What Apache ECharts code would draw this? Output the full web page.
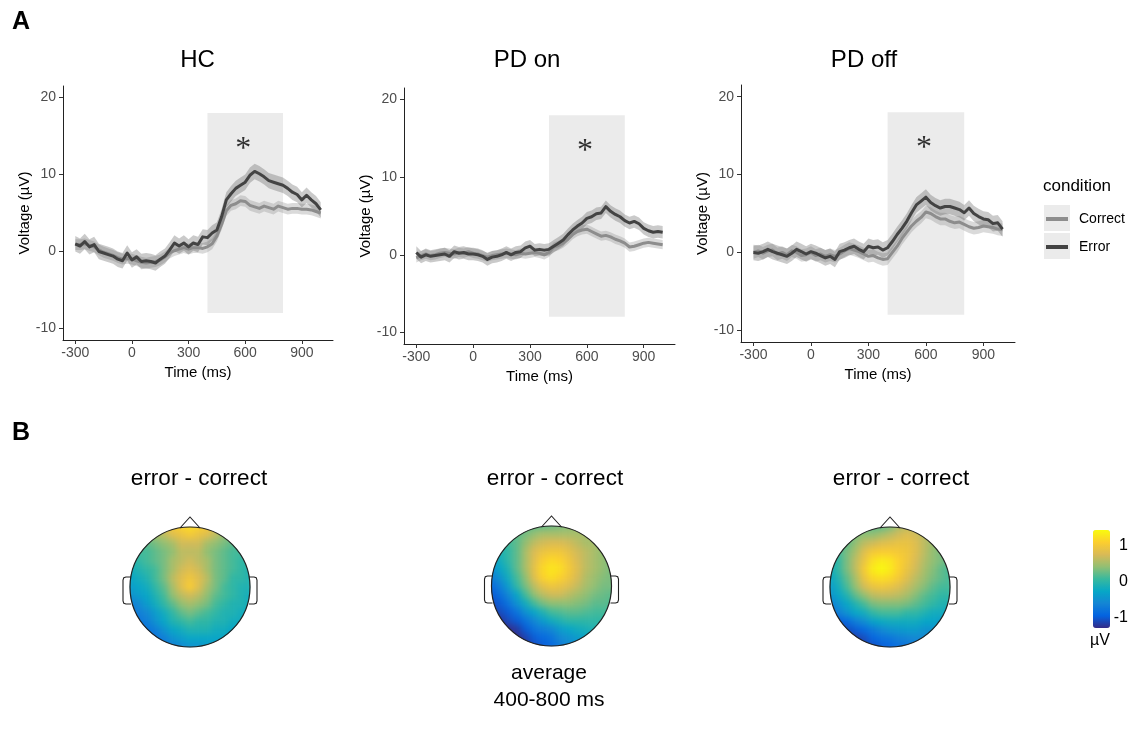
<!DOCTYPE html>
<html>
<head>
<meta charset="utf-8">
<script src="https://cdn.jsdelivr.net/npm/echarts@6/dist/echarts.min.js"></script>
<style>
html,body{margin:0;padding:0;background:#fff}
#c{width:1131px;height:739px}
</style>
</head>
<body>
<div id="c"></div>
<script>
// ---------- ERP time courses (µV), sampled every 25 ms ----------
const times = [-300,-275,-250,-225,-200,-175,-150,-125,-100,-75,-50,-25,0,25,50,75,100,125,150,175,200,225,250,275,300,325,350,375,400,425,450,475,500,525,550,575,600,625,650,675,700,725,750,775,800,825,850,875,900,925,950,975,1000];

const hcError = [1.0,0.7,1.3,0.6,0.9,0,-0.2,-0.4,-0.6,-1.0,-1.2,-0.2,-1.1,-0.7,-1.3,-1.2,-1.3,-1.5,-1.0,-0.6,0.2,1.1,0.7,1.1,0.6,1.1,0.9,1.9,1.8,2.4,2.8,4.5,6.7,7.5,8.2,8.6,9.0,9.9,10.4,10.1,9.7,9.2,9.0,8.8,8.6,8.2,7.7,7.4,6.7,7.3,6.7,6.2,5.4];
const hcCorrect = [0.9,0.9,1.0,0.8,0.6,0.2,-0.1,-0.3,-0.5,-0.8,-1.0,-0.9,-1.0,-1.2,-1.4,-1.5,-1.4,-1.3,-1.1,-0.7,-0.2,0.1,0.3,0.5,0.3,0.5,0.5,0.4,0.6,1.0,2.0,3.5,5.3,6.0,6.2,6.6,6.5,6.0,5.8,5.6,5.9,5.7,5.5,5.9,5.7,5.5,5.6,5.6,5.5,5.5,5.4,5.2,5.0];

const pdOnError = [0.3,-0.3,0,-0.2,-0.1,0,0.1,-0.2,0.4,0.2,0.3,0.1,0.1,0,-0.2,-0.6,-0.3,-0.2,0,0.3,0,0.3,0.4,0.9,1.1,0.6,0.7,0.6,0.7,1.1,1.5,1.9,2.6,3.2,3.7,4.1,4.7,4.9,5.3,5.4,6.2,5.6,5.2,4.9,4.4,4.1,4.3,4.0,3.4,3.1,2.9,3.0,2.9];
const pdOnCorrect = [-0.4,-0.1,0.1,-0.1,0,0.2,0.3,0.2,0.1,0.3,0.2,0.4,0.2,0.1,-0.1,-0.3,-0.1,0,0.1,0.2,0.1,0,0.2,0.1,0.2,0.3,0.2,0.0,0.3,1.0,1.2,1.5,2.0,2.6,3.0,3.2,3.3,3.0,2.7,2.4,2.5,2.3,2.0,1.8,1.5,1.0,1.1,1.3,1.5,1.6,1.5,1.4,1.3];

const pdOffError = [0,-0.1,0.1,0.4,0.1,-0.1,-0.3,-0.5,-0.1,0.4,0.1,-0.2,0.1,-0.1,-0.4,-0.7,-0.5,-0.9,0.1,0.3,0.6,0.8,0.4,0.1,0.8,0.6,0.7,0.3,0.6,1.4,2.3,3.1,4.0,5.1,6.1,6.6,7.1,6.4,6.0,5.7,5.9,5.9,5.7,5.5,5.1,5.7,5.0,4.6,4.3,4.2,3.7,3.8,3.0];
const pdOffCorrect = [0,0.2,-0.1,0.2,0.3,-0.2,0,-0.3,0.2,0,-0.4,-0.3,0,-0.4,-0.2,-0.5,-0.3,-0.5,-0.2,0.2,0.5,0.3,0.1,-0.2,-0.5,-0.4,-0.7,-0.9,-0.8,0.0,0.8,1.8,2.6,3.4,4.0,4.5,5.2,5.0,4.6,4.3,4.3,4.0,3.8,3.9,3.6,3.3,3.1,3.2,3.4,3.3,3.2,3.0,2.9];

// standard-error half widths of the shaded ribbons (µV)
const seError = [1.0, 0.8, 1.0];
const seCorrect = [0.7, 0.6, 0.8];

const panelTitles = ['HC', 'PD on', 'PD off'];
const conditionNames = ['Correct', 'Error'];
const timeTicks = [-300, 0, 300, 600, 900];
const voltTicks = [-10, 0, 10, 20];
// analysis window [start ms, end ms, low µV, high µV]
const windowBox = [400, 800, -8, 18];
// significance marker [ms, µV]
const starPos = [590, 14.3];

// ---------- scalp maps: error - correct, 400-800 ms (µV), rows front -> back ----------
const hcTopo = [
  [0.3,0.4,0.5,0.6,0.8,1.0,1.1,1.2,1.1,1.0,0.8,0.6,0.4,0.3,0.2],
  [0.2,0.3,0.4,0.5,0.6,0.8,0.9,1.0,0.9,0.8,0.6,0.4,0.3,0.2,0.1],
  [0.1,0.2,0.2,0.3,0.4,0.5,0.7,0.7,0.7,0.5,0.4,0.3,0.2,0.1,0.1],
  [0.0,0.1,0.1,0.2,0.3,0.4,0.6,0.6,0.6,0.4,0.3,0.2,0.1,0.1,0.0],
  [-0.1,0.0,0.1,0.2,0.3,0.5,0.6,0.7,0.6,0.5,0.3,0.2,0.1,0.0,0.0],
  [-0.2,-0.1,0.0,0.1,0.3,0.5,0.7,0.8,0.7,0.5,0.3,0.2,0.1,0.0,-0.1],
  [-0.3,-0.2,-0.1,0.1,0.3,0.6,0.8,0.95,0.8,0.6,0.3,0.2,0.0,0.0,-0.1],
  [-0.4,-0.3,-0.2,0.0,0.2,0.5,0.8,1.05,0.8,0.5,0.3,0.1,0.0,-0.1,-0.1],
  [-0.5,-0.4,-0.3,-0.1,0.1,0.4,0.6,0.7,0.6,0.4,0.2,0.1,0.0,-0.1,-0.2],
  [-0.7,-0.6,-0.4,-0.2,0.0,0.2,0.4,0.5,0.4,0.3,0.1,0.0,-0.1,-0.1,-0.2],
  [-0.8,-0.7,-0.6,-0.4,-0.2,0.0,0.2,0.3,0.2,0.1,0.0,-0.1,-0.1,-0.2,-0.2],
  [-0.9,-0.8,-0.7,-0.5,-0.3,-0.1,0.0,0.1,0.0,0.0,-0.1,-0.1,-0.2,-0.2,-0.3],
  [-1.0,-0.9,-0.8,-0.7,-0.5,-0.3,-0.2,-0.1,-0.1,-0.1,-0.2,-0.2,-0.3,-0.3,-0.3],
  [-1.1,-1.0,-0.9,-0.8,-0.7,-0.5,-0.4,-0.3,-0.3,-0.3,-0.3,-0.3,-0.4,-0.4,-0.4],
  [-1.1,-1.1,-1.0,-0.9,-0.8,-0.7,-0.6,-0.5,-0.5,-0.4,-0.4,-0.4,-0.5,-0.5,-0.5]
];
const pdOnTopo = [
  [0.0,0.05,0.1,0.1,0.15,0.2,0.2,0.25,0.3,0.35,0.4,0.4,0.4,0.4,0.4],
  [-0.1,0.0,0.1,0.2,0.3,0.4,0.5,0.5,0.5,0.5,0.5,0.5,0.4,0.4,0.4],
  [-0.2,-0.1,0.1,0.2,0.4,0.6,0.7,0.75,0.75,0.7,0.6,0.5,0.5,0.4,0.4],
  [-0.3,-0.1,0.0,0.2,0.5,0.75,0.9,0.95,0.95,0.85,0.7,0.6,0.5,0.4,0.4],
  [-0.4,-0.2,0.0,0.2,0.5,0.8,1.05,1.15,1.1,0.95,0.75,0.6,0.5,0.4,0.3],
  [-0.6,-0.3,-0.1,0.2,0.5,0.85,1.15,1.25,1.2,1.0,0.8,0.6,0.5,0.4,0.3],
  [-0.7,-0.5,-0.2,0.1,0.4,0.8,1.1,1.2,1.1,0.95,0.75,0.55,0.45,0.35,0.3],
  [-0.9,-0.7,-0.4,0.0,0.3,0.6,0.85,0.95,0.9,0.8,0.65,0.5,0.4,0.3,0.3],
  [-1.0,-0.85,-0.6,-0.3,0.1,0.4,0.6,0.7,0.7,0.6,0.5,0.4,0.3,0.25,0.2],
  [-1.1,-1.0,-0.8,-0.5,-0.2,0.1,0.3,0.4,0.4,0.4,0.35,0.3,0.2,0.2,0.15],
  [-1.2,-1.1,-1.0,-0.8,-0.5,-0.3,-0.1,0.1,0.15,0.2,0.2,0.15,0.1,0.1,0.1],
  [-1.3,-1.25,-1.1,-1.0,-0.8,-0.6,-0.4,-0.2,-0.1,0.0,0.0,0.0,0.0,0.0,0.0],
  [-1.4,-1.35,-1.3,-1.2,-1.0,-0.8,-0.7,-0.6,-0.4,-0.3,-0.2,-0.15,-0.1,-0.1,-0.1],
  [-1.4,-1.4,-1.35,-1.3,-1.15,-1.0,-0.9,-0.8,-0.6,-0.5,-0.4,-0.3,-0.25,-0.2,-0.2],
  [-1.4,-1.4,-1.4,-1.35,-1.25,-1.1,-1.0,-0.9,-0.75,-0.6,-0.5,-0.4,-0.35,-0.3,-0.3]
];
const pdOffTopo = [
  [0.0,0.1,0.2,0.2,0.2,0.2,0.2,0.3,0.5,0.6,0.6,0.5,0.4,0.3,0.2],
  [0.0,0.1,0.2,0.3,0.4,0.4,0.5,0.6,0.7,0.8,0.7,0.6,0.4,0.3,0.2],
  [-0.1,0.1,0.2,0.4,0.6,0.7,0.8,0.85,0.9,0.9,0.8,0.6,0.45,0.3,0.2],
  [-0.1,0.1,0.3,0.5,0.8,1.0,1.05,1.05,1.0,0.95,0.8,0.6,0.4,0.3,0.2],
  [-0.2,0.0,0.3,0.6,0.9,1.2,1.3,1.25,1.1,0.95,0.75,0.55,0.4,0.3,0.2],
  [-0.2,0.0,0.3,0.6,1.0,1.3,1.4,1.3,1.1,0.9,0.7,0.5,0.35,0.2,0.1],
  [-0.3,-0.1,0.2,0.5,0.9,1.15,1.2,1.15,1.0,0.8,0.6,0.45,0.3,0.2,0.1],
  [-0.4,-0.2,0.1,0.4,0.7,0.9,0.95,0.9,0.8,0.65,0.5,0.35,0.2,0.1,0.1],
  [-0.5,-0.3,-0.1,0.2,0.4,0.6,0.65,0.65,0.6,0.5,0.35,0.2,0.1,0.0,0.0],
  [-0.7,-0.5,-0.3,-0.1,0.1,0.3,0.35,0.35,0.35,0.3,0.2,0.1,0.0,-0.1,-0.1],
  [-0.9,-0.7,-0.5,-0.3,-0.2,0.0,0.1,0.1,0.1,0.0,0.0,-0.1,-0.2,-0.2,-0.3],
  [-1.1,-1.0,-0.9,-0.7,-0.55,-0.35,-0.25,-0.2,-0.2,-0.2,-0.2,-0.3,-0.3,-0.4,-0.4],
  [-1.3,-1.2,-1.1,-1.0,-0.9,-0.75,-0.6,-0.5,-0.45,-0.4,-0.4,-0.5,-0.5,-0.5,-0.5],
  [-1.4,-1.35,-1.3,-1.2,-1.1,-0.95,-0.85,-0.8,-0.7,-0.65,-0.6,-0.6,-0.6,-0.6,-0.6],
  [-1.4,-1.4,-1.35,-1.3,-1.2,-1.1,-1.0,-0.95,-0.85,-0.8,-0.7,-0.7,-0.7,-0.7,-0.7]
];
const colorbarTicks = [-1, 0, 1];
const colorRange = [-1.3, 1.42];

// ---------- layout & style ----------
const FONT = '"Liberation Sans", Arial, sans-serif';
const ERR_COLOR = '#434343';
const COR_COLOR = '#8d8d8d';
const lineGrids = [
  {left: 63, top: 86, width: 270, height: 254},
  {left: 404, top: 88, width: 271, height: 256},
  {left: 741, top: 85, width: 274, height: 257}
];
const titleCenters = [197.5, 527, 864];
const heads = [
  {cx: 190, cy: 587, label: 199},
  {cx: 551.5, cy: 586, label: 555},
  {cx: 890, cy: 587, label: 901}
];
const R = 60;        // head radius (px)
const MAP_PAD = 5;   // map extends a little past the scalp outline
const parula = ['#352a87','#0363e1','#1485d4','#06a7c6','#38b99e','#92bf73','#d9ba56','#fcce2e','#f9fb0e'];

const panelData = [
  {err: hcError, cor: hcCorrect},
  {err: pdOnError, cor: pdOnCorrect},
  {err: pdOffError, cor: pdOffCorrect}
];
const topos = [hcTopo, pdOnTopo, pdOffTopo];

const grids = [], xAxes = [], yAxes = [], series = [], titles = [];

// ribbon polygon (mean ± se) drawn through the axis scales
function ribbon(gi, vals, se, fill, z) {
  return {
    type: 'custom', xAxisIndex: gi, yAxisIndex: gi, z: z, silent: true,
    data: [[times[0], vals[0]]],
    renderItem: function (params, api) {
      const up = vals.map((v, i) => api.coord([times[i], v + se]));
      const lo = vals.map((v, i) => api.coord([times[i], v - se])).reverse();
      return {type: 'polygon', shape: {points: up.concat(lo)}, style: {fill: fill}};
    }
  };
}

panelData.forEach((p, k) => {
  grids.push(Object.assign({containLabel: false}, lineGrids[k]));
  xAxes.push({
    type: 'value', gridIndex: k, min: -365, max: 1065,
    splitLine: {show: false},
    axisLine: {onZero: false, lineStyle: {color: '#222', width: 1}},
    axisTick: {show: true, length: 4, customValues: timeTicks, lineStyle: {color: '#333'}},
    axisLabel: {customValues: timeTicks, color: '#4d4d4d', fontSize: 14, fontFamily: FONT, margin: 6},
    name: 'Time (ms)', nameLocation: 'middle', nameGap: 25,
    nameTextStyle: {color: '#000', fontSize: 15, fontFamily: FONT}
  });
  yAxes.push({
    type: 'value', gridIndex: k, min: -11.5, max: 21.5,
    splitLine: {show: false},
    axisLine: {show: true, onZero: false, lineStyle: {color: '#222', width: 1}},
    axisTick: {show: true, length: 4, customValues: voltTicks, lineStyle: {color: '#333'}},
    axisLabel: {customValues: voltTicks, color: '#4d4d4d', fontSize: 14, fontFamily: FONT, margin: 7},
    name: 'Voltage (µV)', nameLocation: 'middle', nameGap: 30,
    nameTextStyle: {color: '#000', fontSize: 15, fontFamily: FONT}
  });

  // analysis window
  series.push({
    type: 'custom', xAxisIndex: k, yAxisIndex: k, z: 1, silent: true,
    data: [windowBox],
    renderItem: function (params, api) {
      const a = api.coord([api.value(0), api.value(3)]);
      const b = api.coord([api.value(1), api.value(2)]);
      return {type: 'rect', shape: {x: a[0], y: a[1], width: b[0] - a[0], height: b[1] - a[1]},
              style: {fill: '#ebebeb'}};
    }
  });
  series.push(ribbon(k, p.cor, seCorrect[k], 'rgba(140,140,140,0.32)', 2));
  series.push(ribbon(k, p.err, seError[k], 'rgba(90,90,90,0.32)', 2));

  const mk = (name, vals, color) => ({
    type: 'line', name: name, xAxisIndex: k, yAxisIndex: k, z: 3,
    data: times.map((t, i) => [t, vals[i]]),
    showSymbol: false, symbol: 'none', smooth: false,
    lineStyle: {color: color, width: 3, join: 'round'},
    itemStyle: {color: color}
  });
  series.push(mk(conditionNames[0], p.cor, COR_COLOR));
  series.push(mk(conditionNames[1], p.err, ERR_COLOR));

  series.push({
    type: 'scatter', xAxisIndex: k, yAxisIndex: k, z: 4, silent: true,
    data: [starPos], symbol: 'circle', symbolSize: 2,
    itemStyle: {color: 'rgba(0,0,0,0)'},
    label: {show: true, position: 'inside', formatter: '*', color: '#000',
            fontSize: 32, fontFamily: '"Liberation Serif", serif', offset: [0, 8]}
  });

  titles.push({
    text: panelTitles[k], left: titleCenters[k], top: 48,
    textAlign: 'center', padding: 0, zlevel: 3,
    textStyle: {fontSize: 24, fontWeight: 'normal', color: '#000', fontFamily: FONT}
  });
});

// scalp maps (drawn on their own layer, softened so the cells blend into a continuous field)
const heatIdx = [];
heads.forEach((h, k) => {
  const gi = 3 + k;
  const half = R + MAP_PAD;
  grids.push({left: h.cx - half, top: h.cy - half, width: 2 * half, height: 2 * half});
  const cats = topos[k][0].map((_, j) => String(j));
  xAxes.push({type: 'category', gridIndex: gi, data: cats, show: false});
  yAxes.push({type: 'category', gridIndex: gi, data: cats, show: false, inverse: true});
  const data = [];
  topos[k].forEach((row, i) => row.forEach((v, j) => data.push([j, i, v])));
  heatIdx.push(series.length);
  series.push({type: 'heatmap', xAxisIndex: gi, yAxisIndex: gi, data: data, silent: true,
               zlevel: 1, itemStyle: {borderWidth: 0}});
  titles.push({
    text: 'error - correct', left: h.label, top: 467, textAlign: 'center', padding: 0, zlevel: 3,
    textStyle: {fontSize: 22.5, fontWeight: 'normal', color: '#000', fontFamily: FONT}
  });
});

// colour bar tick labels
grids.push({left: 1093, top: 530, width: 17, height: 98});
xAxes.push({type: 'value', gridIndex: 6, show: false});
yAxes.push({
  type: 'value', gridIndex: 6, position: 'right', min: colorRange[0], max: colorRange[1],
  axisLine: {show: false}, axisTick: {show: false}, splitLine: {show: false},
  axisLabel: {customValues: colorbarTicks, align: 'right', margin: 18, color: '#000',
              fontSize: 16, fontFamily: FONT}
});

titles.push({text: 'A', left: 12, top: 10, padding: 0, zlevel: 3,
  textStyle: {fontSize: 25, fontWeight: 'bold', color: '#000', fontFamily: FONT}});
titles.push({text: 'B', left: 12, top: 421, padding: 0, zlevel: 3,
  textStyle: {fontSize: 25, fontWeight: 'bold', color: '#000', fontFamily: FONT}});
titles.push({text: 'average\n400-800 ms', left: 549, top: 660, textAlign: 'center', padding: 0, zlevel: 3,
  textStyle: {fontSize: 21, fontWeight: 'normal', color: '#000', fontFamily: FONT, lineHeight: 27}});
titles.push({text: 'condition', left: 1043, top: 178, padding: 0, zlevel: 3,
  textStyle: {fontSize: 17, fontWeight: 'normal', color: '#000', fontFamily: FONT}});
titles.push({text: 'µV', left: 1100, top: 633, textAlign: 'center', padding: 0, zlevel: 3,
  textStyle: {fontSize: 16, fontWeight: 'normal', color: '#000', fontFamily: FONT}});

// head outlines, nose and ears
const graphics = [];
heads.forEach(h => {
  const cx = h.cx, cy = h.cy;
  graphics.push({type: 'ring', zlevel: 2, z: 100, silent: true,
    shape: {cx: cx, cy: cy, r: R + 42, r0: R + 0.3}, style: {fill: '#fff'}});
  graphics.push({type: 'circle', zlevel: 2, z: 101, silent: true,
    shape: {cx: cx, cy: cy, r: R}, style: {fill: null, stroke: '#222', lineWidth: 1.2}});
  graphics.push({type: 'polyline', zlevel: 2, z: 101, silent: true,
    shape: {points: [[cx - 10, cy - R + 1], [cx, cy - R - 10], [cx + 10, cy - R + 1]]},
    style: {fill: null, stroke: '#222', lineWidth: 1.1}});
  [-1, 1].forEach(s => {
    const x0 = cx + s * (R - 1), x1 = cx + s * (R + 7), y0 = cy - 10, y1 = cy + 17;
    graphics.push({type: 'polyline', zlevel: 2, z: 101, silent: true,
      shape: {points: [[x0, y0], [x1 - s * 3, y0], [x1 - s * 0.8, y0 + 0.8], [x1, y0 + 3],
                       [x1, y1 - 3], [x1 - s * 0.8, y1 - 0.8], [x1 - s * 3, y1], [x0, y1]]},
      style: {fill: null, stroke: '#222', lineWidth: 1.1}});
  });
});
// legend key backgrounds
[0, 1].forEach(i => graphics.push({type: 'rect', z: 0, silent: true,
  shape: {x: 1044, y: 205 + i * 28, width: 26, height: 26}, style: {fill: '#ebebeb'}}));

const option = {
  animation: false,
  backgroundColor: '#fff',
  title: titles,
  grid: grids,
  xAxis: xAxes,
  yAxis: yAxes,
  legend: {
    orient: 'vertical', left: 1046, top: 211, padding: 0, itemGap: 12,
    itemWidth: 22, itemHeight: 4, icon: 'rect',
    data: conditionNames,
    textStyle: {fontSize: 14, color: '#000', fontFamily: FONT, lineHeight: 16, padding: [0, 0, 0, 6]}
  },
  visualMap: {
    type: 'continuous', seriesIndex: heatIdx, min: colorRange[0], max: colorRange[1],
    left: 1093, top: 530, itemWidth: 17, itemHeight: 98, padding: 0,
    calculable: false, showLabel: false, text: null,
    inRange: {color: parula}
  },
  graphic: graphics,
  series: series
};

const chart = echarts.init(document.getElementById('c'));
chart.setOption(option);

// soften the scalp-map layer
function softenMaps() {
  const painter = chart.getZr().painter;
  const layer = painter && painter.getLayer ? painter.getLayer(1) : null;
  if (layer && layer.dom) layer.dom.style.filter = 'blur(3px)';
}
softenMaps();
chart.on('finished', softenMaps);
</script>
</body>
</html>
